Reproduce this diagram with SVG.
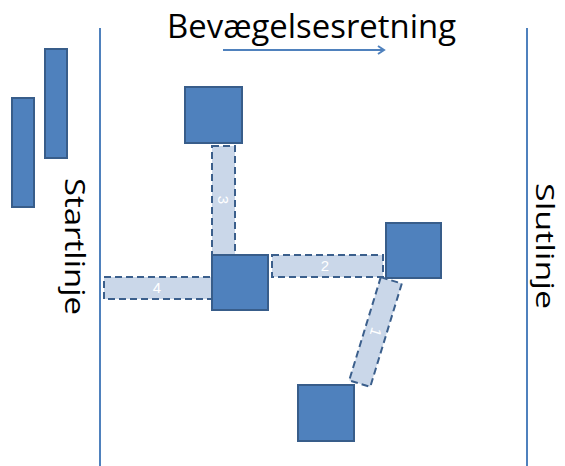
<svg xmlns="http://www.w3.org/2000/svg" width="565" height="466" viewBox="0 0 565 466">
<style>
.node{fill:#4f81bd;stroke:#385d8a;stroke-width:2}
.band{fill:#cad7e9;stroke:#3b5f8c;stroke-width:2;stroke-dasharray:7,4}
.line{stroke:#4f81bd;stroke-width:2;fill:none}
.lbl{font-family:"Liberation Sans",Arial,sans-serif;fill:#ffffff;font-size:15px;text-anchor:middle}
.big{font-family:"Open Sans","Liberation Sans",sans-serif;fill:#000000}
</style>
<defs>
<marker id="arr" markerWidth="10" markerHeight="10" refX="8" refY="5" orient="auto" markerUnits="userSpaceOnUse">
<polyline points="2,1 8,5 2,9" fill="none" stroke="#4f81bd" stroke-width="2"/>
</marker>
</defs>
<rect width="565" height="466" fill="#ffffff"/>
<g id="lines">
<line class="line" x1="100" y1="28" x2="100" y2="466"/>
<line class="line" x1="527" y1="28" x2="527" y2="466"/>
</g>
<g id="title">
<text class="big" x="167" y="38" font-size="32" textLength="289" lengthAdjust="spacingAndGlyphs">Bevægelsesretning</text>
<line class="line" x1="223" y1="50" x2="384" y2="50" marker-end="url(#arr)"/>
</g>
<g id="start-bars">
<rect class="node" x="12" y="98" width="22" height="109"/>
<rect class="node" x="45" y="49" width="22" height="109"/>
</g>
<g id="startlinje">
<text class="big" transform="translate(65,178) rotate(90)" font-size="28" textLength="137" lengthAdjust="spacingAndGlyphs">Startlinje</text>
</g>
<g id="slutlinje">
<text class="big" transform="translate(536,183) rotate(90)" font-size="26" textLength="126" lengthAdjust="spacingAndGlyphs">Slutlinje</text>
</g>
<g id="connectors">
<g id="band4"><rect class="band" x="104" y="277" width="110" height="22"/><text class="lbl" x="157" y="293">4</text></g>
<g id="band2"><rect class="band" x="272" y="255" width="111" height="22"/><text class="lbl" x="325" y="271">2</text></g>
<g id="band3"><rect class="band" x="212" y="146" width="23" height="110"/><text class="lbl" transform="translate(218,200) rotate(90)">3</text></g>
<g id="band1" transform="translate(375.5,332) rotate(17)"><rect class="band" x="-11" y="-54" width="22" height="108"/><text class="lbl" transform="translate(-5,0) rotate(90)">1</text></g>
</g>
<g id="square-top"><rect class="node" x="185" y="87" width="57" height="56"/></g>
<g id="square-center"><rect class="node" x="212" y="255" width="56" height="55"/></g>
<g id="square-right"><rect class="node" x="386" y="223" width="55" height="55"/></g>
<g id="square-bottom"><rect class="node" x="298" y="385" width="56" height="56"/></g>
</svg>
